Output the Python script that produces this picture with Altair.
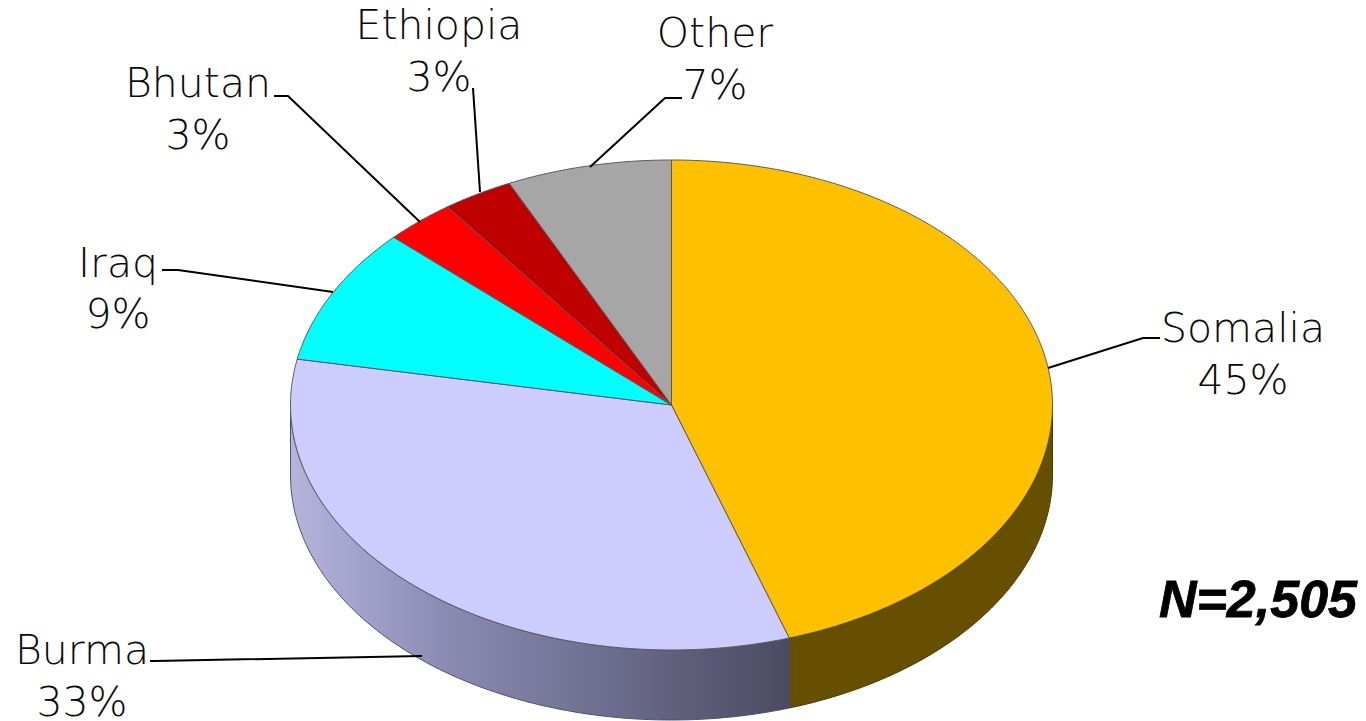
import math
import altair as alt
import pandas as pd

# Data
categories = ["Somalia", "Burma", "Iraq", "Bhutan", "Ethiopia", "Other"]
shares = [45, 33, 9, 3, 3, 7]
labels = ["45%", "33%", "9%", "3%", "3%", "7%"]
note = "N=2,505"

# Styling / layout (pixels of the page)
top_colors = ["#FFC000", "#CCCCFF", "#00FFFF", "#FF0000", "#C00000", "#A6A6A6"]
CX, CY, RX, RY, DEPTH = 671.5, 405, 381, 245, 70
FONT = "DejaVu Sans"
label_x = [1243, 82, 118, 198, 439, 715]
label_name_y = [342, 664, 277, 97, 39, 47]
label_pct_y = [394, 716, 328, 149, 91, 99]
# elbow of each leader (bend, end beside the label)
leader_bend = [(1143, 338), (155, 661), (178, 270), (288, 96), (473, 88), (665, 98)]
leader_end = [(1160, 338), (150, 661), (162, 270), (274, 96), (473, 88), (682, 98)]
leader_anchor = [(1048, 368), (422, 656), (333, 292), (420, 222), (480, 192), (590, 167)]

X = alt.X("x:Q", scale=alt.Scale(domain=[8, 1358]), axis=None)
Y = alt.Y("y:Q", scale=alt.Scale(domain=[8, 721], reverse=True), axis=None)


def pt(turn, dy=0):
    a = 2 * math.pi * turn
    return CX + RX * math.sin(a), CY - RY * math.cos(a) + dy


def arc(t0, t1, dy=0):
    n = max(2, int(abs(t1 - t0) * 720))
    return [pt(t0 + (t1 - t0) * i / n, dy) for i in range(n + 1)]


def polygon(points, **mark):
    rows = [{"x": p[0], "y": p[1], "i": i} for i, p in enumerate(points + points[:1])]
    return alt.Chart(pd.DataFrame(rows)).mark_line(**mark).encode(
        x=X, y=Y, order=alt.Order("i:Q")
    )


layers = []
edges = [0]
for s in shares:
    edges.append(edges[-1] + s / 100)

# side walls: Somalia part visible from the right extreme, Burma until the left extreme
wall_brown = arc(0.25, edges[1]) + arc(edges[1], 0.25, DEPTH)
wall_blue = arc(edges[1], 0.75) + arc(0.75, edges[1], DEPTH)
gradient = alt.LinearGradient(
    gradient="linear", x1=0, x2=1, y1=0, y2=0,
    stops=[
        alt.GradientStop(color="#B4B4DC", offset=0),
        alt.GradientStop(color="#8C8CB4", offset=0.3),
        alt.GradientStop(color="#6C6C8C", offset=0.65),
        alt.GradientStop(color="#4A4A62", offset=1),
    ],
)
layers.append(polygon(wall_brown, fill="#665000", stroke="#4A3A00", strokeWidth=1))
layers.append(polygon(wall_blue, fill=gradient, stroke="#50506A", strokeWidth=1))

# top face
for i, c in enumerate(top_colors):
    pts = [(CX, CY)] + arc(edges[i], edges[i + 1])
    layers.append(polygon(pts, fill=c, stroke="#5A5A5A", strokeWidth=1, opacity=1))

# leaders
for i in range(len(categories)):
    rows = [
        {"x": leader_anchor[i][0], "y": leader_anchor[i][1], "i": 0},
        {"x": leader_bend[i][0], "y": leader_bend[i][1], "i": 1},
        {"x": leader_end[i][0], "y": leader_end[i][1], "i": 2},
    ]
    layers.append(
        alt.Chart(pd.DataFrame(rows))
        .mark_line(color="#000000", strokeWidth=2)
        .encode(x=X, y=Y, order=alt.Order("i:Q"))
    )

# labels
txt = pd.DataFrame(
    {
        "x": label_x * 2,
        "y": label_name_y + label_pct_y,
        "t": categories + labels,
    }
)
layers.append(
    alt.Chart(txt)
    .mark_text(font=FONT, fontSize=41, color="#0A0A0A", align="center", baseline="alphabetic", fontWeight=200)
    .encode(x=X, y=Y, text="t:N")
)
layers.append(
    alt.Chart(pd.DataFrame({"x": [1357], "y": [617], "t": [note]}))
    .mark_text(font="Liberation Sans", fontSize=52, fontWeight="bold", fontStyle="italic",
               color="#000000", stroke="#000000", strokeWidth=0.8, align="right", baseline="alphabetic")
    .encode(x=X, y=Y, text="t:N")
)

chart = (
    alt.layer(*layers)
    .properties(width=1350, height=713, padding=0, autosize=alt.AutoSizeParams(type="none"), background="#FFFFFF")
    .configure_view(stroke=None)
)
chart.save("out.html", embed_options={"renderer": "svg", "actions": False})
